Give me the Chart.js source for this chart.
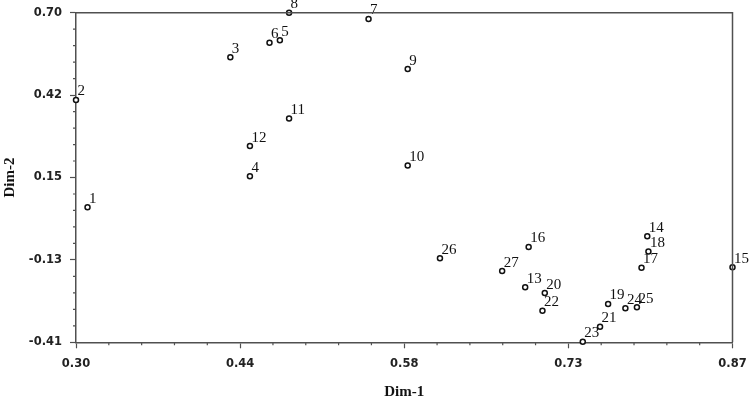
<!DOCTYPE html>
<html>
<head>
<meta charset="utf-8">
<script src="https://cdn.jsdelivr.net/npm/chart.js@4.4.1/dist/chart.umd.min.js"></script>
<style>
  body { margin: 0; background: #fff; }
</style>
</head>
<body>
<canvas id="chart" width="750" height="398"></canvas>
<script>
// point names and coordinates
const pointNames = ["1", "2", "3", "4", "5", "6", "7", "8", "9", "10", "11", "12", "13", "14",
    "15", "16", "17", "18", "19", "20", "21", "22", "23", "24", "25", "26", "27"];
const dim1 = [0.310, 0.300, 0.434, 0.451, 0.477, 0.468, 0.554, 0.485, 0.588, 0.588, 0.485, 0.451, 0.690, 0.796,
    0.870, 0.693, 0.791, 0.797, 0.762, 0.707, 0.755, 0.705, 0.740, 0.777, 0.787, 0.616, 0.670];
const dim2 = [0.045, 0.406, 0.550, 0.149, 0.607, 0.599, 0.679, 0.700, 0.510, 0.185, 0.344, 0.251, -0.225, -0.053,
    -0.157, -0.089, -0.159, -0.104, -0.281, -0.244, -0.358, -0.304, -0.408, -0.295, -0.292, -0.127, -0.170];

// axis ticks
const xTickValues = [0.30, 0.4425, 0.585, 0.7275, 0.87];
const xTickLabels = ["0.30", "0.44", "0.58", "0.73", "0.87"];
const yTickValues = [-0.41, -0.1325, 0.145, 0.4225, 0.70];
const yTickLabels = ["-0.41", "-0.13", "0.15", "0.42", "0.70"];

const axisColor = "#505050";
const tickFont = { family: "DejaVu Sans", size: 11.5, weight: "bold" };
const titleFont = { family: "Liberation Serif", size: 15, weight: "bold" };

const points = dim1.map((x, i) => ({ x: x, y: dim2[i] }));

// frame on top/right, minor ticks and point labels
const extras = {
    id: "extras",
    afterDatasetsDraw(chart) {
        const ctx = chart.ctx;
        const meta = chart.getDatasetMeta(0);
        ctx.save();
        ctx.fillStyle = "#111";
        ctx.font = "15px 'Liberation Serif'";
        ctx.textAlign = "left";
        ctx.textBaseline = "alphabetic";
        meta.data.forEach((el, i) => {
            ctx.fillText(pointNames[i], el.x + 1.5, el.y - 4.5);
        });
        ctx.restore();
    },
    afterDraw(chart) {
        const ctx = chart.ctx;
        const a = chart.chartArea;
        const xs = chart.scales.x;
        const ys = chart.scales.y;
        ctx.save();
        ctx.strokeStyle = axisColor;
        ctx.lineWidth = 1.5;
        ctx.beginPath();
        ctx.moveTo(a.left, a.top);
        ctx.lineTo(a.right, a.top);
        ctx.lineTo(a.right, a.bottom);
        ctx.stroke();

        ctx.lineWidth = 1.2;
        ctx.beginPath();
        for (let i = 0; i < xTickValues.length - 1; i++) {
            const step = (xTickValues[i + 1] - xTickValues[i]) / 5;
            for (let k = 1; k < 5; k++) {
                const px = xs.getPixelForValue(xTickValues[i] + step * k);
                ctx.moveTo(px, a.bottom);
                ctx.lineTo(px, a.bottom + 3);
            }
        }
        for (let i = 0; i < yTickValues.length - 1; i++) {
            const step = (yTickValues[i + 1] - yTickValues[i]) / 5;
            for (let k = 1; k < 5; k++) {
                const py = ys.getPixelForValue(yTickValues[i] + step * k);
                ctx.moveTo(a.left, py);
                ctx.lineTo(a.left - 3, py);
            }
        }
        ctx.stroke();
        ctx.restore();
    }
};

new Chart(document.getElementById("chart"), {
    type: "scatter",
    data: {
        datasets: [{
            data: points,
            pointRadius: 2.5,
            pointHoverRadius: 2.5,
            pointBorderWidth: 1.5,
            pointBorderColor: "#111",
            pointBackgroundColor: "#fff",
            clip: false
        }]
    },
    options: {
        responsive: false,
        animation: false,
        events: [],
        layout: { padding: { top: 12.7, right: 17.5, left: 0, bottom: 0 } },
        plugins: {
            legend: { display: false },
            tooltip: { enabled: false }
        },
        scales: {
            x: {
                type: "linear",
                min: 0.30,
                max: 0.87,
                afterBuildTicks: (scale) => {
                    scale.ticks = xTickValues.map(v => ({ value: v }));
                },
                afterFit: (scale) => {
                    scale.height = 55.7;
                    scale.paddingLeft = 0;
                    scale.paddingRight = 0;
                },
                ticks: {
                    padding: 9,
                    color: "#222",
                    font: tickFont,
                    maxRotation: 0,
                    callback: (v, i) => xTickLabels[i]
                },
                grid: {
                    drawOnChartArea: false,
                    tickLength: 6,
                    tickWidth: 1.2,
                    tickColor: axisColor
                },
                border: { color: axisColor, width: 1.5 },
                title: {
                    display: true,
                    text: "Dim-1",
                    color: "#111",
                    font: titleFont,
                    padding: { top: -3, bottom: -3 }
                }
            },
            y: {
                type: "linear",
                min: -0.41,
                max: 0.70,
                afterBuildTicks: (scale) => {
                    scale.ticks = yTickValues.map(v => ({ value: v }));
                },
                afterFit: (scale) => {
                    scale.width = 76;
                    scale.paddingTop = 0;
                    scale.paddingBottom = 0;
                },
                ticks: {
                    padding: 8,
                    color: "#222",
                    font: tickFont,
                    callback: (v, i) => yTickLabels[i]
                },
                grid: {
                    drawOnChartArea: false,
                    tickLength: 6,
                    tickWidth: 1.2,
                    tickColor: axisColor
                },
                border: { color: axisColor, width: 1.5 },
                title: {
                    display: true,
                    text: "Dim-2",
                    color: "#111",
                    font: titleFont,
                    padding: { top: 1, bottom: 0 }
                }
            }
        }
    },
    plugins: [extras]
});
</script>
</body>
</html>
